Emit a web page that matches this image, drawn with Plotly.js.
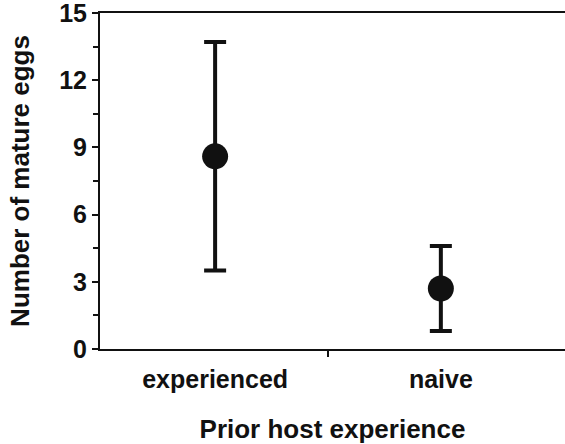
<!DOCTYPE html>
<html>
<head>
<meta charset="utf-8">
<script src="https://cdn.plot.ly/plotly-3.0.1.min.js"></script>
<style>html,body{margin:0;padding:0;background:#fff;}#chart{width:565px;height:444px;}</style>
</head>
<body>
<div id="chart"></div>
<script>
const categories = ["experienced", "naive"];
const categoryPositions = [0, 1];
const meanEggs = [8.6, 2.7];
const errorEggs = [5.1, 1.9];
const yTickValues = [0, 3, 6, 9, 12, 15];
const yTickLabels = ["0", "3", "6", "9", "12", "15"];

const font = "Liberation Sans, Arial, sans-serif";

const trace = {
  x: categoryPositions,
  y: meanEggs,
  type: "scatter",
  mode: "markers",
  marker: {size: 26, color: "#111"},
  error_y: {type: "data", array: errorEggs, visible: true, color: "#111", thickness: 4, width: 11},
  showlegend: false,
  hoverinfo: "skip"
};

const layout = {
  width: 565, height: 444,
  margin: {l: 100, r: 0, t: 13, b: 95},
  paper_bgcolor: "#fff", plot_bgcolor: "#fff",
  font: {family: font, color: "#111"},
  xaxis: {
    range: [-0.51, 1.55],
    tickmode: "array",
    tickvals: categoryPositions,
    ticktext: categories,
    ticks: "",
    ticklabelstandoff: 7,
    showgrid: false, zeroline: false,
    showline: true, linecolor: "#111", linewidth: 2, mirror: true,
    tickfont: {family: font, size: 25, weight: "bold", color: "#111"},
    title: {text: "Prior host experience", font: {family: font, size: 26, weight: "bold", color: "#111"}, standoff: 30}
  },
  xaxis2: {
    overlaying: "x", matches: "x", anchor: "y",
    tickmode: "array", tickvals: [0.5],
    showticklabels: false,
    ticks: "outside", ticklen: 7, tickwidth: 2, tickcolor: "#111",
    showgrid: false, zeroline: false, showline: false
  },
  yaxis: {
    range: [0, 15],
    tickmode: "array",
    tickvals: yTickValues,
    ticktext: yTickLabels,
    ticks: "outside", ticklen: 6, tickwidth: 2, tickcolor: "#111",
    ticklabeloverflow: "allow",
    minor: {dtick: 1.5, ticks: "outside", ticklen: 5, tickwidth: 2, tickcolor: "#111"},
    showgrid: false, zeroline: false,
    showline: true, linecolor: "#111", linewidth: 2,
    tickfont: {family: font, size: 25, weight: "bold", color: "#111"},
    title: {text: "Number of mature eggs", font: {family: font, size: 26, weight: "bold", color: "#111"}, standoff: 22}
  }
};

const tickTrace = {x: [], y: [], xaxis: "x2", yaxis: "y", type: "scatter", mode: "markers", showlegend: false, hoverinfo: "skip"};

Plotly.newPlot("chart", [trace, tickTrace], layout, {staticPlot: true, displayModeBar: false});
</script>
</body>
</html>
